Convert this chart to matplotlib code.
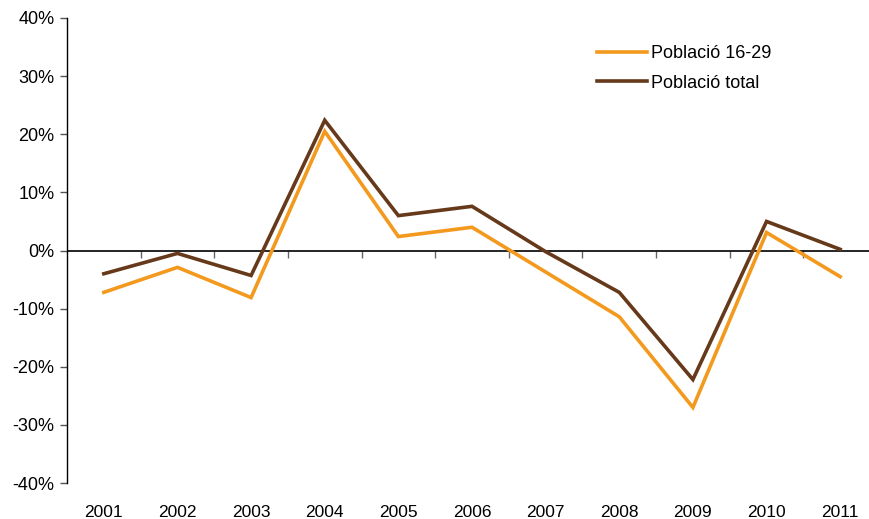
import matplotlib
matplotlib.use("Agg")
import matplotlib.pyplot as plt
from matplotlib.ticker import FuncFormatter, FixedLocator

plt.rcParams['font.family'] = ['Liberation Sans', 'DejaVu Sans']

years = ['2001', '2002', '2003', '2004', '2005', '2006', '2007', '2008', '2009', '2010', '2011']
pob_16_29 = [-7.2, -2.9, -8.1, 20.5, 2.4, 4.0, -3.7, -11.4, -27.0, 3.1, -4.5]
pob_total = [-4.0, -0.5, -4.3, 22.4, 6.0, 7.6, -0.2, -7.2, -22.2, 5.0, 0.2]
yticks = [-40, -30, -20, -10, 0, 10, 20, 30, 40]

orange = '#F39A1E'
brown = '#66391A'

fig = plt.figure(figsize=(8.69, 5.19), dpi=100)
ax = fig.add_axes([67/869, 1-483/519, 810/869, 465/519])

x = list(range(len(years)))
ax.plot(x, pob_16_29, color=orange, lw=2.6, label='Població 16-29', solid_joinstyle='miter')
ax.plot(x, pob_total, color=brown, lw=2.6, label='Població total', solid_joinstyle='miter')

ax.set_xlim(-0.5, len(years) - 0.5)
ax.set_ylim(-40, 40)
ax.set_yticks(yticks)
ax.yaxis.set_major_formatter(FuncFormatter(lambda v, p: f'{v:.0f}%'))
ax.tick_params(axis='y', direction='out', length=5, width=1, color='#555555', labelsize=13, pad=4)

ax.set_xticks(x)
ax.set_xticklabels(years)
ax.tick_params(axis='x', length=0, labelsize=12.5, pad=16)

for s in ['top', 'right', 'bottom']:
    ax.spines[s].set_visible(False)
ax.spines['left'].set_linewidth(1.0)

ax.axhline(0, color='black', lw=1.2, zorder=1)
sec = ax.secondary_xaxis(0.5)
for s in sec.spines.values():
    s.set_visible(False)
sec.xaxis.set_major_locator(FixedLocator([i + 0.5 for i in range(len(years) - 1)]))
sec.xaxis.set_ticks_position('bottom')
sec.tick_params(axis='x', direction='out', length=5, width=1, color='#666666',
                bottom=True, top=False, labelbottom=False, labeltop=False)

leg = ax.legend(loc='upper left', bbox_to_anchor=(0.634, 0.977), frameon=False, fontsize=13,
                handlelength=2.8, handletextpad=0.2, labelspacing=0.7)

fig.savefig('out.png', dpi=100)
